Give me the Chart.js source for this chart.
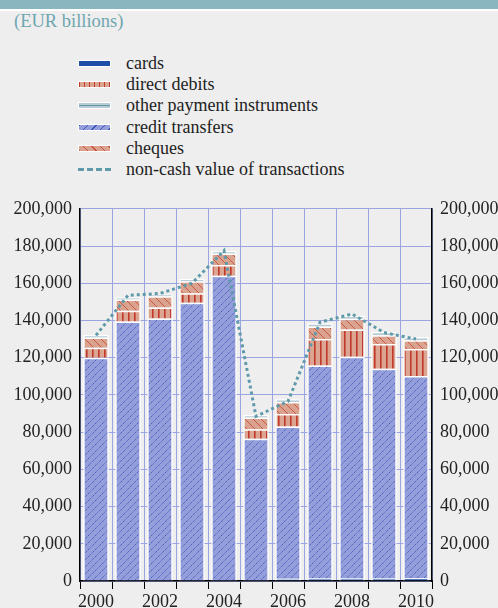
<!DOCTYPE html>
<html>
<head>
<meta charset="utf-8">
<script src="https://cdn.jsdelivr.net/npm/chart.js@4"></script>
<style>
  body { margin:0; width:498px; height:608px; background:#eeeeee; overflow:hidden; position:relative; font-family:"Liberation Serif", "Times New Roman", serif; }
  #band { position:absolute; left:0; top:0; width:498px; height:9px; background:#8ab6bf; border-bottom:2px solid #fff; }
  #unit { position:absolute; left:14px; top:11px; font-size:18.5px; color:#6ea6b0; }
  #legend { position:absolute; left:78px; top:53px; list-style:none; margin:0; padding:0; }
  #legend li { height:21.2px; line-height:21.2px; font-size:18px; color:#222; position:relative; padding-left:48px; white-space:nowrap; }
  .sw { position:absolute; left:0; top:7px; width:33px; height:7px; box-sizing:border-box; border:1px solid #fff; }
  .sw.cards { background:#1e4fa6; }
  .sw.dd { background:repeating-linear-gradient(90deg, #c23a2a 0 1.5px, #dca592 1.5px 5px); }
  .sw.other { background:linear-gradient(to bottom, #b9ccd6 0 2px, #5f96a6 2px 3px, #b9ccd6 3px); }
  .sw.ct { background:repeating-linear-gradient(135deg, #3a55b5 0 1px, #939edb 1px 6px); }
  .sw.chq { background:repeating-linear-gradient(45deg, #c8503c 0 1px, #d9a390 1px 6px); }
  .sw.line { border:none; height:0; top:9px; border-top:3px dashed #5f9aaa; }
  #chartBox { position:absolute; left:0; top:190px; width:498px; height:418px; }
</style>
</head>
<body>
<div id="band"></div>
<div id="unit">(EUR billions)</div>
<ul id="legend">
  <li><span class="sw cards"></span>cards</li>
  <li><span class="sw dd"></span>direct debits</li>
  <li><span class="sw other"></span>other payment instruments</li>
  <li><span class="sw ct"></span>credit transfers</li>
  <li><span class="sw chq"></span>cheques</li>
  <li><span class="sw line"></span>non-cash value of transactions</li>
</ul>
<div id="chartBox"><canvas id="paymentsChart" width="498" height="418"></canvas></div>
<script>
// values in EUR billions
const years = ['2000', '2001', '2002', '2003', '2004', '2005', '2006', '2007', '2008', '2009', '2010'];
const cards = [0, 0, 0, 0, 0, 0, 1200, 1300, 1400, 1400, 1500];
const creditTransfers = [120000, 139500, 141000, 149500, 164000, 76500, 81800, 114500, 119100, 112600, 108600];
const directDebits = [5300, 5700, 6000, 5100, 5800, 5000, 6800, 14200, 14700, 13300, 14500];
const cheques = [5500, 6000, 6000, 6500, 6200, 6300, 6400, 6800, 5700, 4800, 4800];
const otherInstruments = [1500, 1300, 1000, 1200, 1400, 1500, 1500, 1700, 1800, 1800, 1700];
const nonCashTotal = [132000, 153500, 154500, 160000, 177500, 88500, 96500, 139000, 143500, 133500, 130000];

let paymentsCanvas = document.getElementById('paymentsChart');
let ctx = paymentsCanvas.getContext('2d');

function makePattern(size, bg, draw) {
  let tile = document.createElement('canvas');
  tile.width = size;
  tile.height = size;
  let t = tile.getContext('2d');
  t.fillStyle = bg;
  t.fillRect(0, 0, size, size);
  draw(t, size);
  return ctx.createPattern(tile, 'repeat');
}

// "/" dotted blue lines
let creditFill = makePattern(7, '#939edb', function (t, s) {
  t.strokeStyle = '#3a55b5';
  t.lineWidth = 1;
  t.setLineDash([1.3, 1]);
  t.beginPath();
  t.moveTo(-1, s + 1); t.lineTo(s + 1, -1);
  t.stroke();
});
// vertical red stripes
let debitFill = makePattern(6, '#dca592', function (t, s) {
  t.fillStyle = '#c0392b';
  t.fillRect(2, 0, 1.6, s);
});
// "\" thin red lines
let chequeFill = makePattern(8, '#d9a390', function (t, s) {
  t.strokeStyle = '#c8503c';
  t.lineWidth = 0.9;
  t.beginPath();
  t.moveTo(-1, -1); t.lineTo(s + 1, s + 1);
  t.moveTo(s - 1, -1); t.lineTo(s + 1, 1);
  t.moveTo(-1, s - 1); t.lineTo(1, s + 1);
  t.stroke();
});

function thousands(v) {
  return Number(v).toLocaleString('en-US');
}

let gridBlue = '#9aa5e2';
let labelFont = { family: 'Liberation Serif', size: 18 };

function barSet(label, data, fill) {
  return {
    type: 'bar',
    label: label,
    data: data,
    backgroundColor: fill,
    borderColor: '#ffffff',
    borderWidth: 1.5,
    barPercentage: 0.8,
    categoryPercentage: 1,
    yAxisID: 'y'
  };
}

let paymentsChart = new Chart(ctx, {
  data: {
    labels: years,
    datasets: [
      {
        type: 'line',
        label: 'non-cash value of transactions',
        data: nonCashTotal,
        borderColor: '#5f9aaa',
        borderWidth: 3,
        borderDash: [3, 3],
        pointRadius: 0,
        fill: false,
        tension: 0,
        yAxisID: 'y2'
      },
      barSet('cards', cards, '#1e4fa6'),
      barSet('credit transfers', creditTransfers, creditFill),
      barSet('direct debits', directDebits, debitFill),
      barSet('cheques', cheques, chequeFill),
      barSet('other payment instruments', otherInstruments, '#b9ccd6')
    ]
  },
  options: {
    responsive: false,
    animation: false,
    layout: { padding: { top: 15, left: 0, right: 0, bottom: 0 } },
    plugins: { legend: { display: false }, tooltip: { enabled: false } },
    scales: {
      x: {
        stacked: true,
        offset: true,
        grid: { offset: true, color: gridBlue, tickColor: '#000', tickLength: 8, lineWidth: 1 },
        border: { color: '#000', width: 1.5 },
        ticks: {
          autoSkip: false,
          maxRotation: 0,
          padding: 2,
          color: '#222',
          font: labelFont,
          callback: function (val, i) { return i % 2 === 0 ? this.getLabelForValue(val) : ''; }
        },
        afterFit: function (scale) { scale.height = 27; }
      },
      y: {
        stacked: true,
        position: 'left',
        min: 0,
        max: 200000,
        grid: { color: gridBlue, lineWidth: 1, drawTicks: false },
        border: { color: '#000', width: 1.5 },
        ticks: { stepSize: 20000, padding: 8, color: '#222', font: labelFont, callback: thousands },
        afterFit: function (scale) { scale.width = 80; }
      },
      y2: {
        position: 'right',
        min: 0,
        max: 200000,
        grid: { drawOnChartArea: false, drawTicks: false },
        border: { color: '#000', width: 1.5 },
        ticks: { stepSize: 20000, padding: 8, color: '#222', font: labelFont, callback: thousands },
        afterFit: function (scale) { scale.width = 66; }
      }
    }
  }
});
</script>
</body>
</html>
